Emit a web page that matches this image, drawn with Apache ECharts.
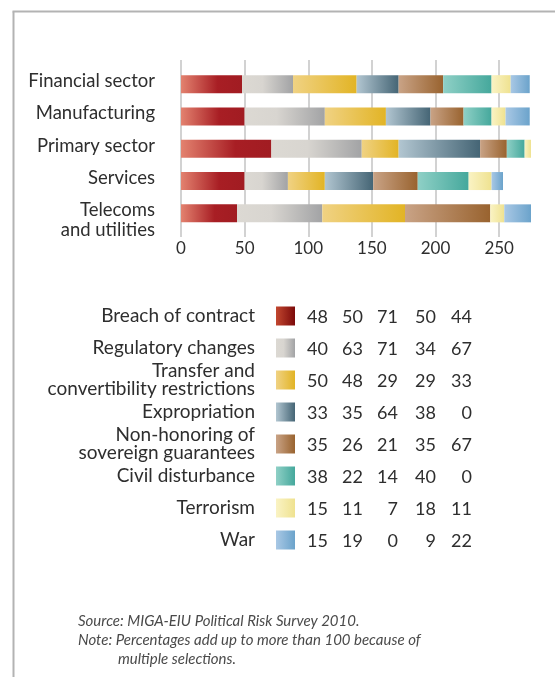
<!DOCTYPE html>
<html>
<head>
<meta charset="utf-8">
<script src="https://cdn.jsdelivr.net/npm/echarts@6/dist/echarts.min.js"></script>
<style>
html,body{margin:0;padding:0;background:#fff;}
#chart{width:555px;height:677px;}
</style>
</head>
<body>
<div id="chart"></div>
<script>
// ---- Data ----
var categories = ['Financial sector', 'Manufacturing', 'Primary sector', 'Services', 'Telecoms\nand utilities'];
var seriesNames = ['Breach of contract', 'Regulatory changes', 'Transfer and\nconvertibility restrictions', 'Expropriation', 'Non-honoring of\nsovereign guarantees', 'Civil disturbance', 'Terrorism', 'War'];
// values printed in the table
var breachOfContract   = [48, 50, 71, 50, 44];
var regulatoryChanges  = [40, 63, 71, 34, 67];
var transferRestrict   = [50, 48, 29, 29, 33];
var expropriation      = [33, 35, 64, 38, 0];
var nonHonoring        = [35, 26, 21, 35, 67];
var civilDisturbance   = [38, 22, 14, 40, 0];
var terrorism          = [15, 11, 7, 18, 11];
var war                = [15, 19, 0, 9, 22];
// the source chart draws the Telecoms "Transfer" bar segment at ~65 (not the printed 33)
var transferRestrictBar = [50, 48, 29, 29, 65];
var xTickValues = [0, 50, 100, 150, 200, 250];

var tableData = [breachOfContract, regulatoryChanges, transferRestrict, expropriation, nonHonoring, civilDisturbance, terrorism, war];
var barData   = [breachOfContract, regulatoryChanges, transferRestrictBar, expropriation, nonHonoring, civilDisturbance, terrorism, war];

// ---- Styles ----
var barStops = [
  [[0,'#e3826f'],[0.6,'#a81e24'],[1,'#a11c22']],
  [[0,'#dcd9d3'],[0.4,'#d8d5d0'],[1,'#a2a3a5']],
  [[0,'#f0d283'],[1,'#e2b425']],
  [[0,'#b2c6d1'],[1,'#456575']],
  [[0,'#c9a386'],[1,'#99632f']],
  [[0,'#8fd0c6'],[1,'#45a89c']],
  [[0,'#faf3c4'],[1,'#efe290']],
  [[0,'#a9c8e5'],[1,'#6ba3cb']]
];
var swatchStops = barStops.slice();
swatchStops[0] = [[0,'#c2472f'],[1,'#7c0a0a']];

function grad(stops){
  return new echarts.graphic.LinearGradient(0,0,1,0, stops.map(function(s){return {offset:s[0], color:s[1]};}));
}

var FONT = 'Lato, "Open Sans", sans-serif';
var TXT = '#2e2e2e';

var chart = echarts.init(document.getElementById('chart'), null, {renderer:'canvas'});

var series = seriesNames.map(function(name, i){
  return {
    name: name.replace('\n',' '),
    type: 'bar',
    stack: 'total',
    xAxisIndex: 0,
    yAxisIndex: 0,
    barWidth: 18,
    itemStyle: { color: grad(barStops[i]) },
    data: barData[i],
    silent: true
  };
});

// ---- Table (graphic) built from the data arrays ----
var graphics = [];
graphics.push({type:'line', shape:{x1:13.5,y1:11.5,x2:13.5,y2:677}, style:{stroke:'#b3b3b3', lineWidth:2}});
graphics.push({type:'line', shape:{x1:12.5,y1:11.5,x2:555,y2:11.5}, style:{stroke:'#b3b3b3', lineWidth:2}});

var rowY0 = 316, rowStep = 32;
var numRight = [328, 363, 398, 436, 472];
seriesNames.forEach(function(name, i){
  var cy = rowY0 + i*rowStep;
  graphics.push({type:'text', x:255, y:cy, style:{
    text:name, font:'19px ' + FONT, fill:TXT, align:'right', verticalAlign:'middle', lineHeight:17.5
  }});
  graphics.push({type:'rect', shape:{x:276, y:cy-9.5, width:19, height:19}, style:{fill:grad(swatchStops[i])}});
  tableData[i].forEach(function(v, j){
    graphics.push({type:'text', x:numRight[j], y:cy+1, style:{
      text:String(v), font:'18px ' + FONT, fill:TXT, align:'right', verticalAlign:'middle'
    }});
  });
});

var NOTE_FONT = 'italic 15px ' + FONT;
graphics.push({type:'text', x:78, y:621, style:{text:'Source: MIGA-EIU Political Risk Survey 2010.', font:NOTE_FONT, fill:'#4a4a4a', verticalAlign:'middle'}});
graphics.push({type:'text', x:78, y:640, style:{text:'Note: Percentages add up to more than 100 because of', font:NOTE_FONT, fill:'#4a4a4a', verticalAlign:'middle'}});
graphics.push({type:'text', x:118, y:659, style:{text:'multiple selections.', font:NOTE_FONT, fill:'#4a4a4a', verticalAlign:'middle'}});

var option = {
  backgroundColor: '#ffffff',
  animation: false,
  grid: [
    {left:181, width:350, top:68, height:161.5},
    {left:181, width:350, top:60, height:177},
    {left:181, width:350, top:65, height:161.5}
  ],
  xAxis: [
    {gridIndex:0, type:'value', min:0, max:275, show:false},
    {gridIndex:1, type:'value', min:0, max:275, interval:50,
      axisLine:{show:false}, axisTick:{show:false},
      splitLine:{show:true, showMaxLine:false, lineStyle:{color:'#d2d2d2', width:2}},
      axisLabel:{show:true, showMaxLabel:false, margin:3, fontFamily:FONT, fontSize:17, color:TXT,
        formatter:function(v){ return xTickValues.indexOf(v) >= 0 ? String(v) : ''; }}
    },
    {gridIndex:2, type:'value', min:0, max:1, show:false}
  ],
  yAxis: [
    {gridIndex:0, type:'category', data:categories, inverse:true, show:false},
    {gridIndex:1, type:'value', min:0, max:1, show:false},
    {gridIndex:2, type:'category', data:categories, inverse:true,
      axisLine:{show:false}, axisTick:{show:false}, splitLine:{show:false},
      axisLabel:{interval:0, hideOverlap:false, margin:26, fontFamily:FONT, fontSize:18.5, color:TXT, lineHeight:20, align:'right',
        formatter:function(v){ return v.indexOf('\n') >= 0 ? '\n' + v : v; }}
    }
  ],
  series: series,
  graphic: graphics
};
chart.setOption(option);
</script>
</body>
</html>
